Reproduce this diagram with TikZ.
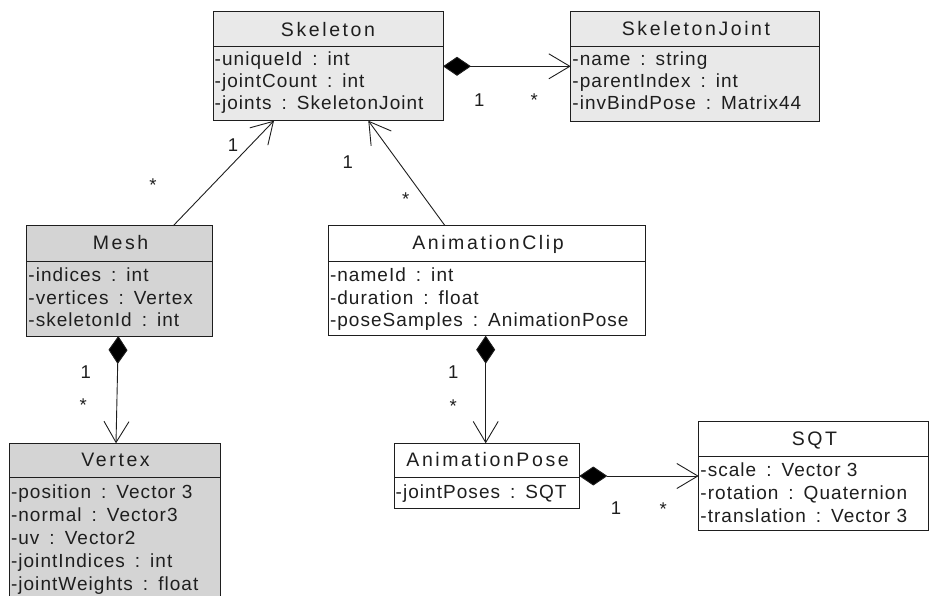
\documentclass[tikz,border=0pt]{standalone}
\usepackage{fontspec}
\setmainfont{Liberation Sans}[LetterSpace=5.5]
\newfontfamily\hdrfont{Liberation Sans}[LetterSpace=13.3]
\usetikzlibrary{arrows.meta,calc}
\definecolor{lightg}{RGB}{233,233,233}
\definecolor{midg}{RGB}{212,212,212}
\definecolor{ink}{RGB}{30,30,30}
\newcommand\cl{\hspace{10pt}:\hspace{10pt}}
\begin{document}
\begin{tikzpicture}[x=1pt,y=-1pt,
  cls/.style={draw=ink, line width=1pt, inner sep=0pt, outer sep=0pt, anchor=north west},
  sep/.style={draw=ink, line width=1pt},
  hdr/.style={anchor=base, inner sep=0pt, text=ink, font=\hdrfont\fontsize{19.5}{21}\selectfont},
  attr/.style={anchor=base west, inner sep=0pt, text=ink, font=\fontsize{19}{21}\selectfont},
  mult/.style={anchor=base, inner sep=0pt, text=ink, font=\fontsize{18.5}{20}\selectfont},
  conn/.style={draw=ink, line width=0.9pt},
  comp/.style={conn, {Diamond[length=28pt,width=19pt,fill=black]}-{Straight Barb[length=21pt,width=25pt]}},
  assoc/.style={conn, -{Straight Barb[length=21pt,width=25pt]}}
]
\useasboundingbox (0,0) rectangle (933,596);

% Skeleton
\node[cls, fill=lightg, minimum width=230pt, minimum height=109pt] (skel) at (213,11.7) {};
\draw[sep] (skel.west |- 0,46.7) -- (skel.east |- 0,46.7);
\node[hdr] (skelT) at (328,36.7) {Skeleton};
\node[attr] (skelA1) at (214.5,65.7) {-uniqueId\cl int};
\node[attr] (skelA2) at (214.5,87.7) {-jointCount\cl int};
\node[attr] (skelA3) at (214.5,109.7) {-joints\cl SkeletonJoint};

% SkeletonJoint
\node[cls, fill=lightg, minimum width=248.3pt, minimum height=109.7pt] (joint) at (570.7,12) {};
\draw[sep] (joint.west |- 0,46.7) -- (joint.east |- 0,46.7);
\node[hdr] (jointT) at (696,36) {SkeletonJoint};
\node[attr] (jointA1) at (572.2,65.7) {-name\cl string};
\node[attr] (jointA2) at (572.2,87.7) {-parentIndex\cl int};
\node[attr] (jointA3) at (572.2,109.7) {-invBindPose\cl Matrix44};

% Mesh
\node[cls, fill=midg, minimum width=185.6pt, minimum height=110.3pt] (mesh) at (26.7,225.7) {};
\draw[sep] (mesh.west |- 0,261) -- (mesh.east |- 0,261);
\node[hdr] (meshT) at (120.5,249.3) {Mesh};
\node[attr] (meshA1) at (28.2,281.7) {-indices\cl int};
\node[attr] (meshA2) at (28.2,304.2) {-vertices\cl Vertex};
\node[attr] (meshA3) at (28.2,326.7) {-skeletonId\cl int};

% Vertex
\node[cls, fill=midg, minimum width=210.7pt, minimum height=160pt] (vert) at (9.3,443.3) {};
\draw[sep] (vert.west |- 0,477.7) -- (vert.east |- 0,477.7);
\node[hdr] (vertT) at (115.6,466.7) {Vertex};
\node[attr] (vertA1) at (10.8,498.3) {-position\cl Vector 3};
\node[attr] (vertA2) at (10.8,521.3) {-normal\cl Vector3};
\node[attr] (vertA3) at (10.8,544.2) {-uv\cl Vector2};
\node[attr] (vertA4) at (10.8,567.1) {-jointIndices\cl int};
\node[attr] (vertA5) at (10.8,590) {-jointWeights\cl float};

% AnimationClip
\node[cls, fill=white, minimum width=317.4pt, minimum height=110pt] (clip) at (328.3,225.7) {};
\draw[sep] (clip.west |- 0,261) -- (clip.east |- 0,261);
\node[hdr] (clipT) at (488,249.3) {AnimationClip};
\node[attr] (clipA1) at (329.8,281.7) {-nameId\cl int};
\node[attr] (clipA2) at (329.8,304.2) {-duration\cl float};
\node[attr] (clipA3) at (329.8,326.7) {-poseSamples\cl AnimationPose};

% AnimationPose
\node[cls, fill=white, minimum width=185.3pt, minimum height=65pt] (pose) at (394,443.3) {};
\draw[sep] (pose.west |- 0,477.7) -- (pose.east |- 0,477.7);
\node[hdr] (poseT) at (487.6,466.7) {AnimationPose};
\node[attr] (poseA1) at (395.5,498.3) {-jointPoses\cl SQT};

% SQT
\node[cls, fill=white, minimum width=229.6pt, minimum height=109pt] (sqt) at (698.7,421.7) {};
\draw[sep] (sqt.west |- 0,456) -- (sqt.east |- 0,456);
\node[hdr] (sqtT) at (814.5,445) {SQT};
\node[attr] (sqtA1) at (700.2,476.5) {-scale\cl Vector 3};
\node[attr] (sqtA2) at (700.2,499.3) {-rotation\cl Quaternion};
\node[attr] (sqtA3) at (700.2,522) {-translation\cl Vector 3};

% connectors
\draw[comp] ($(skel.north east)+(0,54.6)$) -- ($(joint.north west)+(0,54.3)$);
\draw[assoc] ($(mesh.north west)+(146.6,0)$) -- ($(skel.south west)+(61,0)$);
\draw[assoc] ($(clip.north west)+(116.7,0)$) -- ($(skel.south west)+(155.3,0)$);
\draw[comp] ($(mesh.south west)+(91.6,0)$) -- ($(vert.north west)+(106.7,0)$);
\draw[comp] ($(clip.south west)+(157.4,0)$) -- ($(pose.north west)+(91.7,0)$);
\draw[comp] ($(pose.north east)+(0,32.7)$) -- ($(sqt.north west)+(0,54.3)$);

% multiplicities
\node[mult] (m1a) at (479.3,106.8) {1};
\node[mult] (m1b) at (534.3,107) {*};
\node[mult] (m2a) at (233,151.5) {1};
\node[mult] (m2b) at (153,191.7) {*};
\node[mult] (m3a) at (347.7,168.2) {1};
\node[mult] (m3b) at (405.7,205) {*};
\node[mult] (m4a) at (85.7,378.2) {1};
\node[mult] (m4b) at (83.3,411.7) {*};
\node[mult] (m5a) at (453.3,378.2) {1};
\node[mult] (m5b) at (453.3,412.7) {*};
\node[mult] (m6a) at (616,514.8) {1};
\node[mult] (m6b) at (663.3,515) {*};
\end{tikzpicture}
\end{document}
